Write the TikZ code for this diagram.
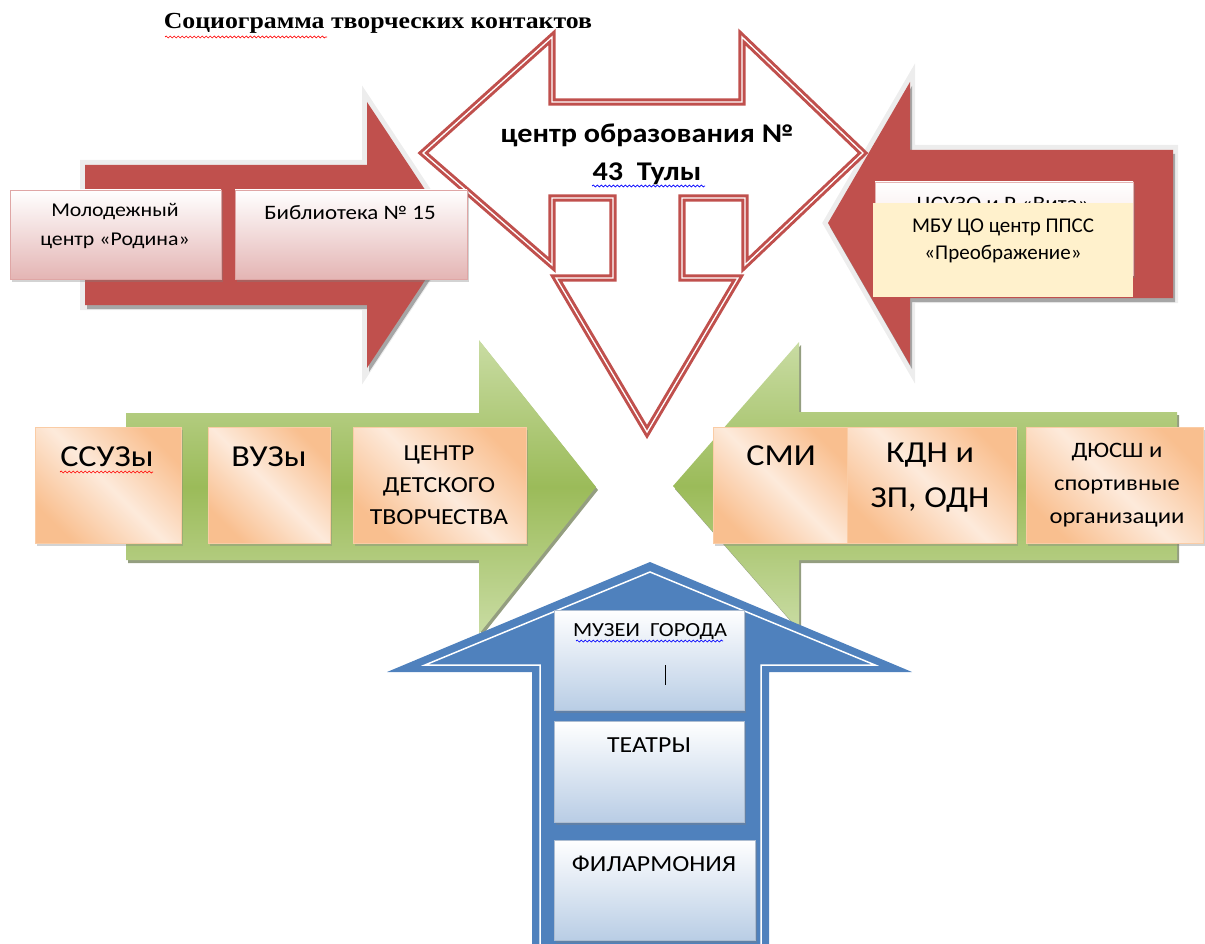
\documentclass[tikz,border=0pt]{standalone}
\usepackage{fontspec}
\setmainfont{Carlito}[FakeStretch=1.12]
\newfontfamily\plainfont{Carlito}
\newfontfamily\titlefont{Liberation Serif}[FakeStretch=1.12]
\usetikzlibrary{positioning, fit, shadows, decorations.pathmorphing}
\definecolor{arrowred}{HTML}{C0504D}
\definecolor{greenD}{HTML}{9BBB59}
\definecolor{greenL}{HTML}{C9DCA3}
\definecolor{arrowblue}{HTML}{4F81BD}
\definecolor{pinkB}{HTML}{E4B5B4}
\definecolor{orangeB}{HTML}{F9BF8F}
\definecolor{orangeL}{HTML}{FDEADB}
\definecolor{blueB}{HTML}{B9CDE5}
\definecolor{yellowB}{HTML}{FFF1CC}
\newcommand*{\setfs}[2]{\fontsize{#1}{#2}\selectfont}

\begin{document}
\begin{tikzpicture}[x=1pt, y=-1pt,
    box/.style={draw, line width=0.8pt, inner sep=0pt, outer sep=0pt,
      drop shadow={opacity=.35, shadow xshift=1.5pt, shadow yshift=-2.5pt}},
    pinkbox/.style={box, draw=pinkB!85!arrowred, top color=white, bottom color=pinkB},
    orangebox/.style={box, draw=orangeB!80!white, top color=orangeB, bottom color=orangeB,
      middle color=orangeL, shading angle=-45},
    bluebox/.style={box, draw=blueB!80!gray, top color=white, bottom color=blueB},
    txt/.style={align=center, inner sep=0pt},
    redarrow/.style={fill=arrowred,
      preaction={draw=black!7, fill=black!7, line width=10pt},
      preaction={fill=black!35, transform canvas={shift={(2pt,-4pt)}}}},
    greenarrow/.style={top color=greenL, bottom color=greenL, middle color=greenD,
      preaction={fill=greenD!50!black, opacity=.6, transform canvas={shift={(2pt,-3pt)}}}},
    centerarrow/.style={fill=white, draw=arrowred, double=white, line width=3pt,
      double distance=1.3pt},
    wavy/.style={decorate, decoration={snake, amplitude=1pt, segment length=4pt}, line width=0.7pt}]
  \useasboundingbox (0,0) rectangle (1205,944);

  % title
  \node[font=\titlefont\bfseries\setfs{23}{23}] (title) at (378,23) {Социограмма творческих контактов};
  \draw[wavy, red] (165,37) -- (327,37);

  % red arrows
  \path[redarrow] (85,165) -- (367,165) -- (367,102) -- (455,235) -- (367,368) -- (367,305) -- (85,305) -- cycle;
  \path[redarrow] (1173,150) -- (910,150) -- (910,82) -- (828,223) -- (910,365) -- (910,298) -- (1173,298) -- cycle;

  % centre
  \draw[centerarrow] (423,153) -- (552,37) -- (552,102) -- (742,102) -- (742,37) -- (863,153)
    -- (745,265) -- (745,198) -- (682,198) -- (682,278) -- (738,278) -- (647,432) -- (556,278)
    -- (613,278) -- (613,198) -- (552,198) -- (552,265) -- cycle;
  \node[txt, font=\bfseries\setfs{27}{38}] (school) at (647,154) {центр образования №\\43\ \ Тулы};
  \draw[wavy, blue] (592,186) -- (705,186);

  % green arrows
  \path[greenarrow] (126,413) -- (479,413) -- (479,340) -- (596,487) -- (479,634) -- (479,560) -- (126,560) -- cycle;
  \path[greenarrow] (1177,412) -- (799,412) -- (799,342) -- (673,486) -- (799,630) -- (799,560) -- (1177,560) -- cycle;

  % blue arrow
  \fill[arrowblue] (650,562) -- (912,672) -- (769,672) -- (769,950) -- (532,950) -- (532,672) -- (387,672) -- cycle;
  \draw[white, line width=1.5pt] (425,665) -- (650,572) -- (875,665) -- (761,665) -- (761,950)
    -- (540,950) -- (540,665) -- cycle;

  % boxes on the red arrows
  \node[pinkbox, fit={(10,190) (221,279)}] (rodina) {};
  \node[pinkbox, fit={(235,190) (467,279)}] (biblio) {};
  \node[txt, font=\setfs{19.5}{29}] (rodina_t) at (115,226) {Молодежный\\центр «Родина»};
  \node[txt, font=\setfs{20.5}{29}] (biblio_t) at (350,213) {Библиотека № 15};
  \node[box, draw=pinkB, top color=white, bottom color=pinkB!60, fit={(875,182) (1133,275)}] (vita) {};
  \node[txt, font=\setfs{20.5}{27}] (vita_t) at (1003,205) {ЦСУЗО и Р «Вита»};
  \node[fill=yellowB, inner sep=0pt, fit={(873,203) (1133,297)}] (preobr) {};
  \node[txt, font=\plainfont\setfs{21}{27}] (preobr_t) at (1003,241) {МБУ ЦО центр ППСС\\«Преображение»};

  % boxes on the green arrows
  \node[orangebox, fit={(35,427) (181,543)}] (ssuz) {};
  \node[orangebox, fit={(208,427) (330,543)}] (vuz) {};
  \node[orangebox, fit={(353,427) (526,543)}] (cdt) {};
  \node[orangebox, fit={(713,427) (847,543)}] (smi) {};
  \node[orangebox, fit={(847,427) (1016,543)}] (kdn) {};
  \node[orangebox, fit={(1026,427) (1203,543)}] (dyussh) {};
  \node[txt, font=\setfs{30.5}{30}] (ssuz_t) at (107,457) {ССУЗы};
  \draw[wavy, red] (60,472) -- (153,472);
  \node[txt, font=\setfs{30.5}{30}] (vuz_t) at (269,457) {ВУЗы};
  \node[txt, font=\setfs{23}{32}] (cdt_t) at (439,485) {ЦЕНТР\\ДЕТСКОГО\\ТВОРЧЕСТВА};
  \node[txt, font=\setfs{30.5}{30}] (smi_t) at (781,456) {СМИ};
  \node[txt, font=\setfs{30.5}{45}] (kdn_t) at (930,478) {КДН и\\ЗП, ОДН};
  \node[txt, font=\setfs{22}{33}] (dyussh_t) at (1117,485) {ДЮСШ и\\спортивные\\организации};

  % boxes on the blue arrow
  \node[bluebox, fit={(554,610) (744,710)}] (muzei) {};
  \node[bluebox, fit={(554,721) (744,822)}] (teatr) {};
  \node[bluebox, fit={(554,840) (755,940)}] (filarm) {};
  \node[txt, font=\setfs{20}{22}] (muzei_t) at (650,632) {МУЗЕИ\ \ ГОРОДА};
  \draw[wavy, blue] (576,641) -- (723,641);
  \draw[line width=0.8pt] (665,665) -- (665,685);
  \node[txt, font=\setfs{23}{22}] (teatr_t) at (649,745) {ТЕАТРЫ};
  \node[txt, font=\setfs{23}{22}] (filarm_t) at (654,864) {ФИЛАРМОНИЯ};
\end{tikzpicture}
\end{document}
